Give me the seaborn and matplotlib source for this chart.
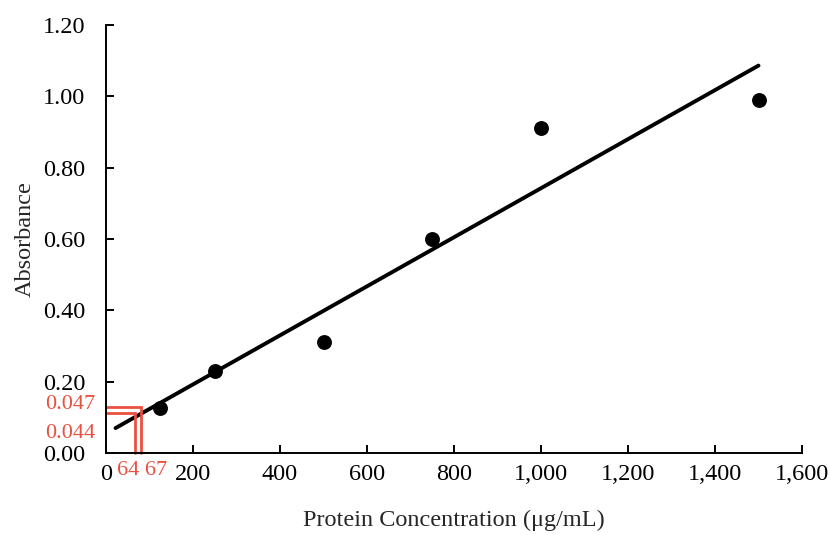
import numpy as np
import pandas as pd
import matplotlib
matplotlib.use("Agg")
import matplotlib.pyplot as plt
import seaborn as sns

# Standard curve data
concentration = [125, 250, 500, 750, 1000, 1500]
absorbance = [0.125, 0.23, 0.31, 0.60, 0.91, 0.99]
trend_start = 22  # trendline is extended back a little below the first standard

# Hand-drawn red read-off marks: (x, y) corners of the two L shapes
mark_x = [80, 67]
mark_y = [0.13, 0.113]
mark_y_labels = ["0.047", "0.044"]
mark_x_labels = "64 67"

RED = "#e9503f"

sns.set_style("ticks")
plt.rcParams["font.family"] = ["Liberation Serif", "DejaVu Serif"]

df = pd.DataFrame({"conc": concentration, "abs": absorbance})

fig = plt.figure(figsize=(8.3, 5.35), dpi=100)
ax = fig.add_axes([0.1277, 0.1533, 0.8386, 0.80])

# Linear trendline
slope, intercept = np.polyfit(df["conc"], df["abs"], 1)
fit_x = np.array([trend_start, max(concentration)])
fit = pd.DataFrame({"conc": fit_x, "abs": slope * fit_x + intercept})
sns.lineplot(data=fit, x="conc", y="abs", color="black", linewidth=2.8, ax=ax)

sns.scatterplot(data=df, x="conc", y="abs", color="black", s=115,
                edgecolor="black", linewidth=0, ax=ax, zorder=3)

# Red annotation lines
for mx, my in zip(mark_x, mark_y):
    ax.plot([0, mx, mx], [my, my, 0], color=RED, linewidth=2.0,
            solid_joinstyle="miter", clip_on=False, zorder=2)

ax.text(-25, 0.135, mark_y_labels[0], color=RED, fontsize=16,
        ha="right", va="center", clip_on=False)
ax.text(-25, 0.056, mark_y_labels[1], color=RED, fontsize=16,
        ha="right", va="center", clip_on=False)
ax.text(82, -0.05, mark_x_labels, color=RED, fontsize=16,
        ha="center", va="center", clip_on=False)

ax.set_xlim(0, 1600)
ax.set_ylim(0, 1.2)
ax.set_xticks(np.arange(0, 1601, 200))
ax.set_yticks(np.arange(0, 1.21, 0.2))
ax.set_xticklabels([f"{int(v):,}" for v in np.arange(0, 1601, 200)])
ax.set_yticklabels([f"{v:.2f}" for v in np.arange(0, 1.21, 0.2)])

ax.tick_params(axis="both", direction="in", length=6, width=1.4,
               labelsize=17.5, color="black", labelcolor="black")
ax.tick_params(axis="y", pad=15)
ax.tick_params(axis="x", pad=8)

for side in ["left", "bottom"]:
    ax.spines[side].set_linewidth(1.4)
    ax.spines[side].set_color("black")
sns.despine(ax=ax)

ax.set_xlabel("Protein Concentration (μg/mL)", fontsize=17.5, labelpad=18)
ax.set_ylabel("Absorbance", fontsize=17.5, labelpad=5)

fig.savefig("out.png", dpi=100)
plt.close(fig)
